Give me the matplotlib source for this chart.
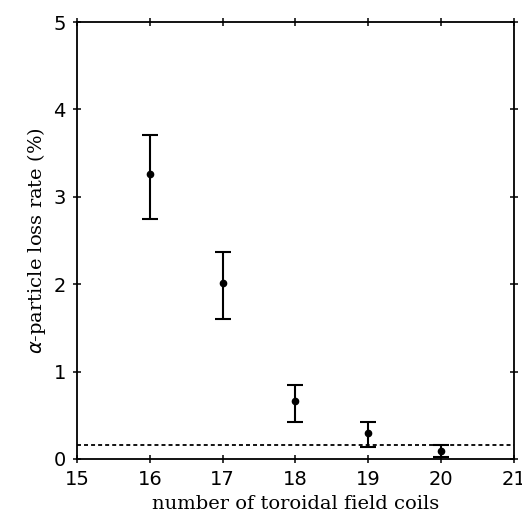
import numpy as np
import matplotlib.pyplot as plt

# alpha-particle loss vs. number of TF coils
n_coils = [16, 17, 18, 19, 20]
loss_rate = [3.26, 2.01, 0.66, 0.30, 0.09]
err_upper = [3.71, 2.37, 0.85, 0.42, 0.16]
err_lower = [2.75, 1.60, 0.42, 0.14, 0.02]
threshold = 0.16

x_ticks = [15, 16, 17, 18, 19, 20, 21]
y_ticks = [0, 1, 2, 3, 4, 5]

loss = np.array(loss_rate)
yerr = np.vstack([loss - np.array(err_lower), np.array(err_upper) - loss])

fig = plt.figure(figsize=(5.22, 5.18), dpi=100)
ax = fig.add_axes([0.1475, 0.114, 0.837, 0.8435])

ax.axhline(threshold, color="k", ls=(0, (2.2, 1.7)), lw=1.3)
ax.errorbar(n_coils, loss_rate, yerr=yerr, fmt="o", color="k", ms=4.5,
            elinewidth=1.5, capsize=5.5, capthick=1.5)

ax.set_xlim(15, 21)
ax.set_ylim(0, 5)
ax.set_xticks(x_ticks)
ax.set_yticks(y_ticks)
for s in ax.spines.values():
    s.set_linewidth(1.3)
ax.tick_params(direction="inout", length=6, width=1.1, top=True, right=True,
               labelsize=14, pad=5)
for lab in ax.get_xticklabels() + ax.get_yticklabels():
    lab.set_family("DejaVu Sans")

ax.set_xlabel("number of toroidal field coils", family="DejaVu Serif", fontsize=14)
ax.set_ylabel(r"$\alpha$-particle loss rate (%)", family="DejaVu Serif", fontsize=14)

fig.savefig("out.png", dpi=100)
